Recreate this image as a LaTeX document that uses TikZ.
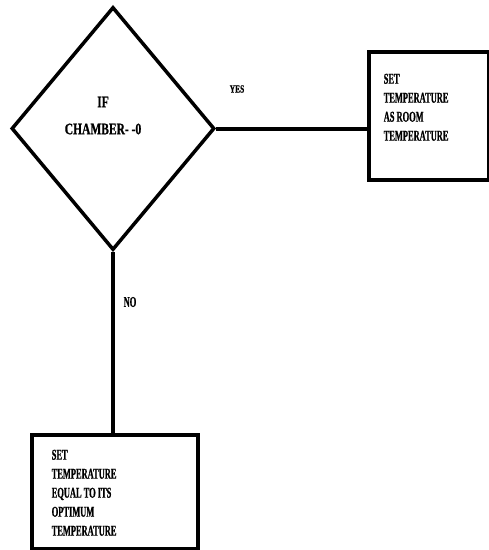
\documentclass[tikz,border=0pt]{standalone}
\usepackage{fontspec}
\usetikzlibrary{shapes.geometric}
\newfontfamily\condfont{Liberation Serif Bold}[FakeStretch=0.56,FakeBold=0.8]
\newfontfamily\condwide{Liberation Serif Bold}[FakeStretch=0.72,FakeBold=0.8]
\newfontfamily\condmid{Liberation Serif Bold}[FakeStretch=0.68,FakeBold=0.8]
\begin{document}
\begin{tikzpicture}[x=1pt,y=-1pt,line width=3.5pt,
  every node/.style={inner sep=0pt},
  lbl/.style={font=\condfont\fontsize{15}{19}\selectfont, align=left},
  boxstyle/.style={draw, line width=4pt, anchor=north west}]
\useasboundingbox (0,0) rectangle (489,550);
\node[diamond, draw, minimum width=203, minimum height=243] (dec) at (113,128.5) {};
\node[align=center, font=\condwide\fontsize{16}{27}\selectfont, anchor=north] (dtxt) at (103,95) {IF\\CHAMBER- -0};
\node[boxstyle, minimum width=120, minimum height=128] (rbox) at (367,50) {};
\node[boxstyle, minimum width=166, minimum height=114] (bbox) at (30,433) {};
\node[lbl, anchor=north west] (rtxt) at (382,72) {SET\\TEMPERATURE\\AS ROOM\\TEMPERATURE};
\node[lbl, anchor=north west] (btxt) at (50,448) {SET\\TEMPERATURE\\EQUAL TO ITS\\OPTIMUM\\TEMPERATURE};
\draw[line width=4pt] (dec.east) -- (dec.east -| rbox.west);
\draw[line width=4pt] (dec.south) -- (dec.south |- bbox.north);
\node[font=\condmid\fontsize{11}{13}\selectfont] (yes) at (237,89) {YES};
\node[font=\condfont\fontsize{15}{17}\selectfont] (no) at (130,302) {NO};
\end{tikzpicture}
\end{document}
